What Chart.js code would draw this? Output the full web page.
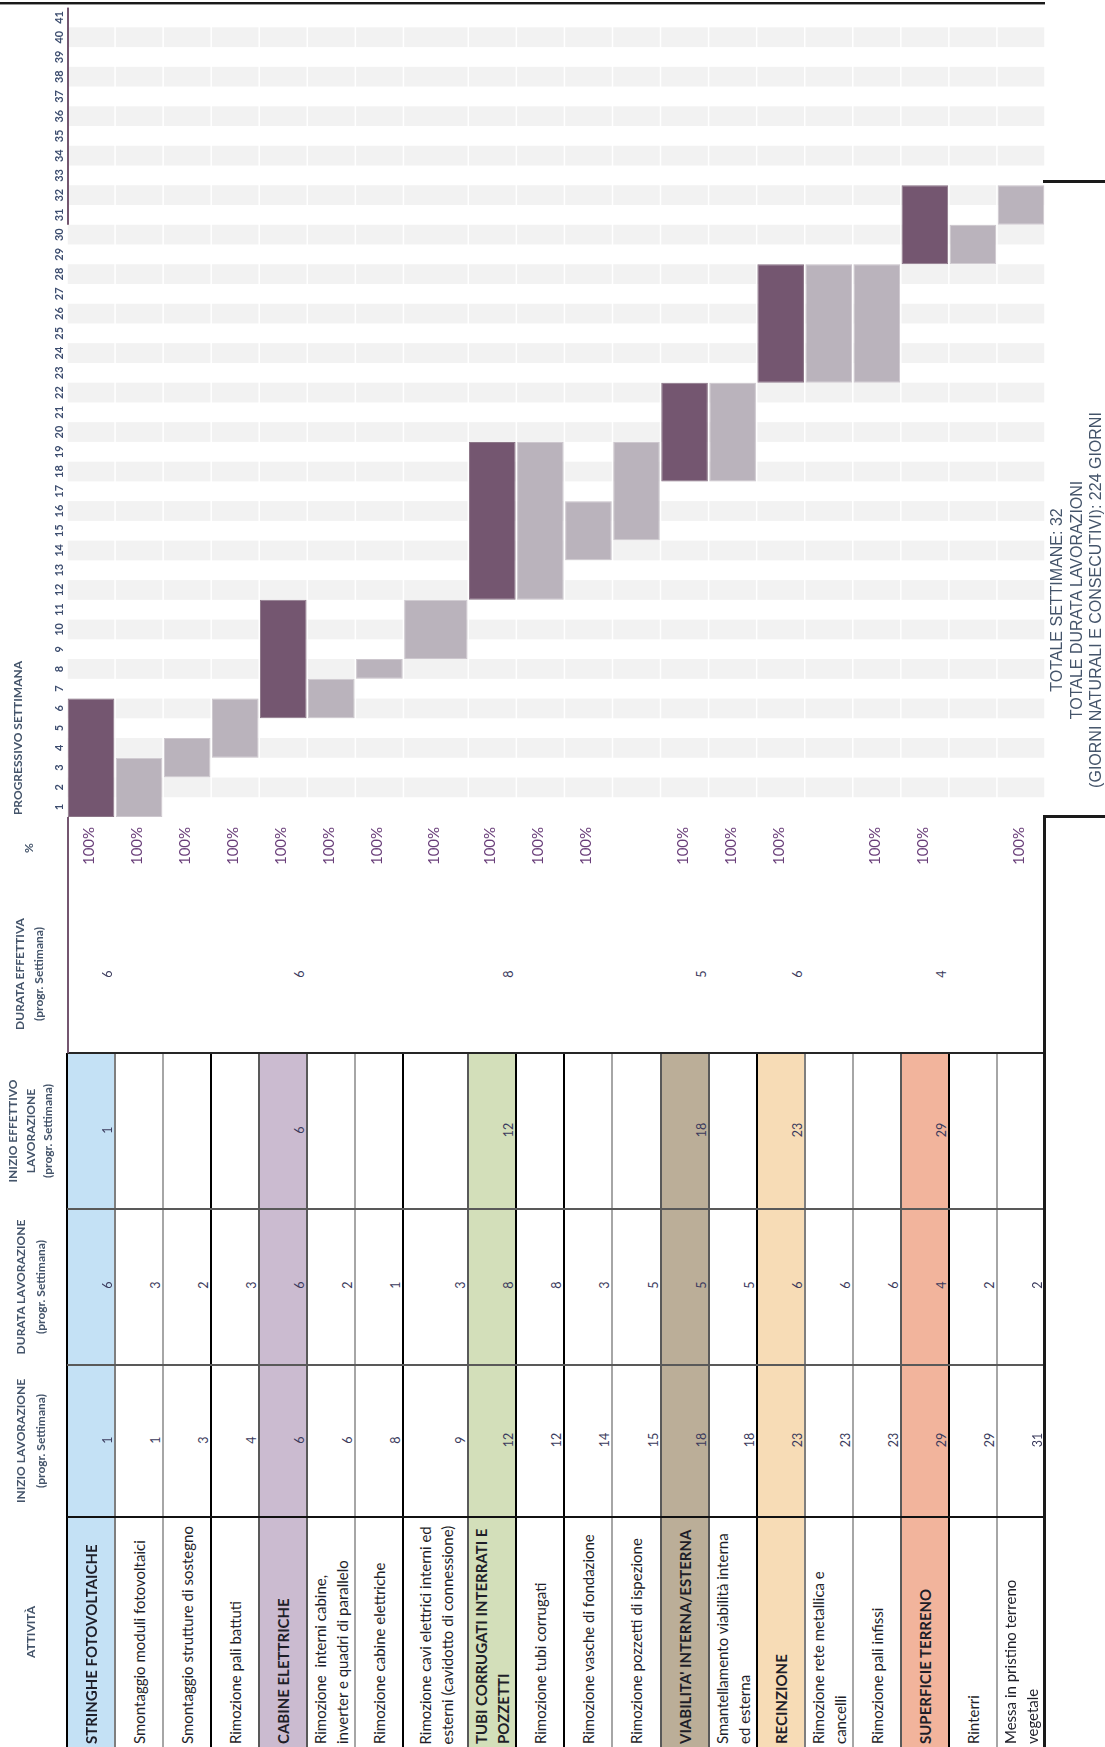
<!DOCTYPE html>
<html>
<head>
<meta charset="utf-8">
<title>Cronoprogramma dismissione</title>
<script src="https://cdn.jsdelivr.net/npm/chart.js@4/dist/chart.umd.min.js"></script>
<style>
  html, body { margin: 0; padding: 0; background: #fff; }
  #page { position: relative; width: 1105px; height: 1747px; overflow: hidden; background: #fff;
          font-family: Lato, "Noto Sans", sans-serif; }
  #gantt { position: absolute; left: 0; top: 0; }
  .rot { position: absolute; white-space: pre; text-align: center;
         transform: translate(-50%, -50%) rotate(-90deg); }
  .cell { position: absolute; box-sizing: border-box; white-space: pre;
          display: flex; flex-direction: column; justify-content: center;
          transform: rotate(-90deg); }
</style>
</head>
<body>
<div id="page"><canvas id="gantt" width="1105" height="830"></canvas></div>
<script>
// ---- Cronoprogramma: attività e tempi (settimane progressive) ----
const ACTIVITIES = [
  'STRINGHE FOTOVOLTAICHE',
  'Smontaggio moduli fotovoltaici',
  'Smontaggio strutture di sostegno',
  'Rimozione pali battuti',
  'CABINE ELETTRICHE',
  'Rimozione  interni cabine,\ninverter e quadri di parallelo',
  'Rimozione cabine elettriche',
  'Rimozione cavi elettrici interni ed\nesterni (cavidotto di connessione)',
  'TUBI CORRUGATI INTERRATI E\nPOZZETTI',
  'Rimozione tubi corrugati',
  'Rimozione vasche di fondazione',
  'Rimozione pozzetti di ispezione',
  "VIABILITA' INTERNA/ESTERNA",
  'Smantellamento viabilità interna\ned esterna',
  'RECINZIONE',
  'Rimozione rete metallica e\ncancelli',
  'Rimozione pali infissi',
  'SUPERFICIE TERRENO',
  'Rinterri',
  'Messa in pristino terreno\nvegetale'
];
const INIZIO_LAVORAZIONE = [1, 1, 3, 4, 6, 6, 8, 9, 12, 12, 14, 15, 18, 18, 23, 23, 23, 29, 29, 31];
const DURATA_LAVORAZIONE = [6, 3, 2, 3, 6, 2, 1, 3, 8, 8, 3, 5, 5, 5, 6, 6, 6, 4, 2, 2];
const INIZIO_EFFETTIVO = [1, null, null, null, 6, null, null, null, 12, null, null, null, 18, null, 23, null, null, 29, null, null];
const DURATA_EFFETTIVA = [6, null, null, null, 6, null, null, null, 8, null, null, null, 5, null, 6, null, null, 4, null, null];
const AVANZAMENTO = ['100%', '100%', '100%', '100%', '100%', '100%', '100%', '100%', '100%', '100%', '100%', null,
                     '100%', '100%', '100%', null, '100%', '100%', null, '100%'];
const WEEK_LABELS = ['1', '2', '3', '4', '5', '6', '7', '8', '9', '10', '11', '12', '13', '14', '15', '16', '17', '18', '19', '20',
                     '21', '22', '23', '24', '25', '26', '27', '28', '29', '30', '31', '32', '33', '34', '35', '36', '37', '38', '39', '40', '41'];
const TOTALE_SETTIMANE = 32;
const TOTALE_GIORNI = 224;

// ---- layout & style ----
// relative width of each activity column (the cable removal column is wider)
const COLUMN_SPAN = [1, 1, 1, 1, 1, 1, 1, 1.35, 1, 1, 1, 1, 1, 1, 1, 1, 1, 1, 1, 1];
const DARK = '#745670';
const LIGHT = '#bab3bc';
const BAND = '#f2f2f2';
const HEAD_COLOR = '#44546a';
const GROUP_FILLS = ['#c4e1f5', '#cbbbd0', '#d3dfba', '#bbae98', '#f7dcb6', '#f2b49c'];
const EDGE_COLORS = ['#000', '#7f7f7f', '#a6a6a6', '#000', '#595959', '#595959', '#a6a6a6', '#000', '#595959', '#000', '#000',
                     '#a6a6a6', '#595959', '#595959', '#000', '#7f7f7f', '#a6a6a6', '#595959', '#000', '#a6a6a6', '#000'];

const isMacro = i => INIZIO_EFFETTIVO[i] !== null;
const edges = [0];
COLUMN_SPAN.forEach((s, i) => edges.push(edges[i] + s));
const centres = COLUMN_SPAN.map((s, i) => edges[i] + s / 2);

Chart.defaults.font.family = 'Lato';

// alternating shaded weeks, split per activity column
const weekBands = {
  id: 'weekBands',
  beforeDatasetsDraw(chart) {
    const { ctx, scales: { x, y } } = chart;
    ctx.save();
    ctx.fillStyle = BAND;
    for (let w = 2; w <= WEEK_LABELS.length; w += 2) {
      const top = y.getPixelForValue(w);
      const bottom = y.getPixelForValue(w - 1);
      for (let c = 0; c < COLUMN_SPAN.length; c++) {
        const l = x.getPixelForValue(edges[c]);
        const r = x.getPixelForValue(edges[c + 1]);
        ctx.fillRect(l + 0.75, top, r - l - 1.5, bottom - top);
      }
    }
    // left border kept on the upper weeks
    ctx.fillStyle = DARK;
    const yTop = y.getPixelForValue(WEEK_LABELS.length);
    const yEnd = y.getPixelForValue(30);
    ctx.fillRect(chart.chartArea.left, yTop, 2, yEnd - yTop);
    ctx.restore();
  }
};

const datasets = ACTIVITIES.map((name, i) => {
  const start = INIZIO_LAVORAZIONE[i] - 1;
  return {
    label: name.replace('\n', ' '),
    data: [{ x: centres[i], y: [start, start + DURATA_LAVORAZIONE[i]] }],
    backgroundColor: isMacro(i) ? DARK : LIGHT,
    borderColor: isMacro(i) ? '#8c7688' : '#cdc7ce',
    borderWidth: 1,
    borderSkipped: false,
    grouped: false,
    categoryPercentage: 1,
    barPercentage: COLUMN_SPAN[i] - 0.03,
    yAxisID: 'y'
  };
});

const chart = new Chart(document.getElementById('gantt'), {
  type: 'bar',
  data: { datasets },
  options: {
    responsive: false,
    animation: false,
    devicePixelRatio: 1,
    layout: { padding: { left: 0, right: 60, top: 5, bottom: 13 } },
    plugins: { legend: { display: false }, tooltip: { enabled: false } },
    scales: {
      y: { type: 'linear', min: 0, max: WEEK_LABELS.length, display: false },
      weeks: {
        type: 'category', axis: 'y', position: 'left',
        labels: WEEK_LABELS, reverse: true, offset: true,
        grid: { display: false, drawTicks: false },
        border: { display: false },
        ticks: { minRotation: 90, maxRotation: 90, crossAlign: 'center', padding: 1, autoSkip: false,
                 color: '#3c4c6e', font: { size: 11, weight: 'bold' } },
        afterFit(scale) { scale.width = 67; }
      },
      x: { type: 'linear', offset: false, min: 0, max: edges[edges.length - 1], display: false,
           ticks: { stepSize: 1, includeBounds: false } }
    }
  },
  plugins: [weekBands]
});

// ---- table below the chart ----
const page = document.getElementById('page');
const xs = chart.scales.x;
const px = edges.map(e => xs.getPixelForValue(e));
const left = px[0], right = px[px.length - 1];

function box(x, y, w, h, bg) {
  const d = document.createElement('div');
  d.style.cssText = `position:absolute;left:${x}px;top:${y}px;width:${w}px;height:${h}px;background:${bg};`;
  page.appendChild(d);
  return d;
}
function rot(cx, cy, text, css) {
  const d = document.createElement('div');
  d.className = 'rot';
  d.style.cssText = `left:${cx}px;top:${cy}px;` + css;
  d.textContent = text;
  page.appendChild(d);
}
function cell(x, y, w, h, text, css) {
  const d = document.createElement('div');
  d.className = 'cell';
  d.style.cssText = `left:${x + w / 2 - h / 2}px;top:${y + h / 2 - w / 2}px;width:${h}px;height:${w}px;` + css;
  d.textContent = text;
  page.appendChild(d);
}

const TABLE_TOP = 1053, ROW_B = 1209, ROW_C = 1365, ROW_D = 1517, PAGE_BOTTOM = 1747;

// coloured macro-activity columns
let g = 0;
ACTIVITIES.forEach((_, i) => {
  if (isMacro(i)) box(px[i], TABLE_TOP, px[i + 1] - px[i], PAGE_BOTTOM - TABLE_TOP, GROUP_FILLS[g++]);
});
// grid lines
px.forEach((x, k) => box(x - 1, TABLE_TOP, 2, PAGE_BOTTOM - TABLE_TOP, EDGE_COLORS[k]));
box(left, TABLE_TOP - 1, right - left, 2, '#262626');
box(left, ROW_B - 1, right - left, 2, '#595959');
box(left, ROW_C - 1, right - left, 2, '#595959');
box(left, ROW_D - 1, right - left, 2, '#111');
// purple border beside the progress rows
box(left, chart.chartArea.bottom, 2, TABLE_TOP - chart.chartArea.bottom, DARK);
// frame lines
box(0, 2, right, 2, '#1a1a1a');
box(0, 4, right, 1, '#9a9a9a');
box(right - 2, 180, 1105 - right + 2, 3, '#1a1a1a');
box(right - 2, 815, 3, PAGE_BOTTOM - 815, '#1a1a1a');
box(right - 2, 815, 1105 - right + 2, 3, '#1a1a1a');

// row headers
const HEAD = `font-weight:700;font-size:12px;color:${HEAD_COLOR};`;
rot(17, 738, 'PROGRESSIVO SETTIMANA', HEAD);
rot(28, 848, '%', HEAD);
rot(29, 974, 'DURATA EFFETTIVA\n(progr. Settimana)', HEAD + 'line-height:19px;');
rot(30, 1131, 'INIZIO EFFETTIVO\nLAVORAZIONE\n(progr. Settimana)', HEAD + 'line-height:17.5px;');
rot(31, 1287, 'DURATA LAVORAZIONE\n(progr. Settimana)', HEAD + 'line-height:20px;');
rot(31, 1441, 'INIZIO LAVORAZIONE\n(progr. Settimana)', HEAD + 'line-height:20px;');
rot(30, 1632, 'ATTIVITÀ', HEAD);

// values
const VAL = 'font-size:12.5px;color:#3a3a5c;';
ACTIVITIES.forEach((name, i) => {
  const c = (px[i] + px[i + 1]) / 2;
  const r = px[i + 1] - 8;
  if (AVANZAMENTO[i]) rot(c - 3, 846, AVANZAMENTO[i], 'font-size:15px;color:#6a3f7a;');
  if (DURATA_EFFETTIVA[i] !== null) rot(r, 974, String(DURATA_EFFETTIVA[i]), VAL);
  if (INIZIO_EFFETTIVO[i] !== null) rot(r, 1130, String(INIZIO_EFFETTIVO[i]), VAL);
  rot(r, 1285, String(DURATA_LAVORAZIONE[i]), VAL);
  rot(r, 1440, String(INIZIO_LAVORAZIONE[i]), VAL);
  cell(px[i], ROW_D, px[i + 1] - px[i], PAGE_BOTTOM - ROW_D, name,
       `padding-left:3px;font-size:15px;line-height:22px;color:#1e1e28;text-align:left;` +
       (isMacro(i) ? 'font-weight:700;' : ''));
});

// totals
rot(1076, 600,
    `TOTALE SETTIMANE: ${TOTALE_SETTIMANE}\nTOTALE DURATA LAVORAZIONI\n(GIORNI NATURALI E CONSECUTIVI): ${TOTALE_GIORNI} GIORNI`,
    `font-family:'Liberation Sans', Arial, sans-serif;font-size:16px;line-height:19.5px;color:${HEAD_COLOR};`);
</script>
</body>
</html>
